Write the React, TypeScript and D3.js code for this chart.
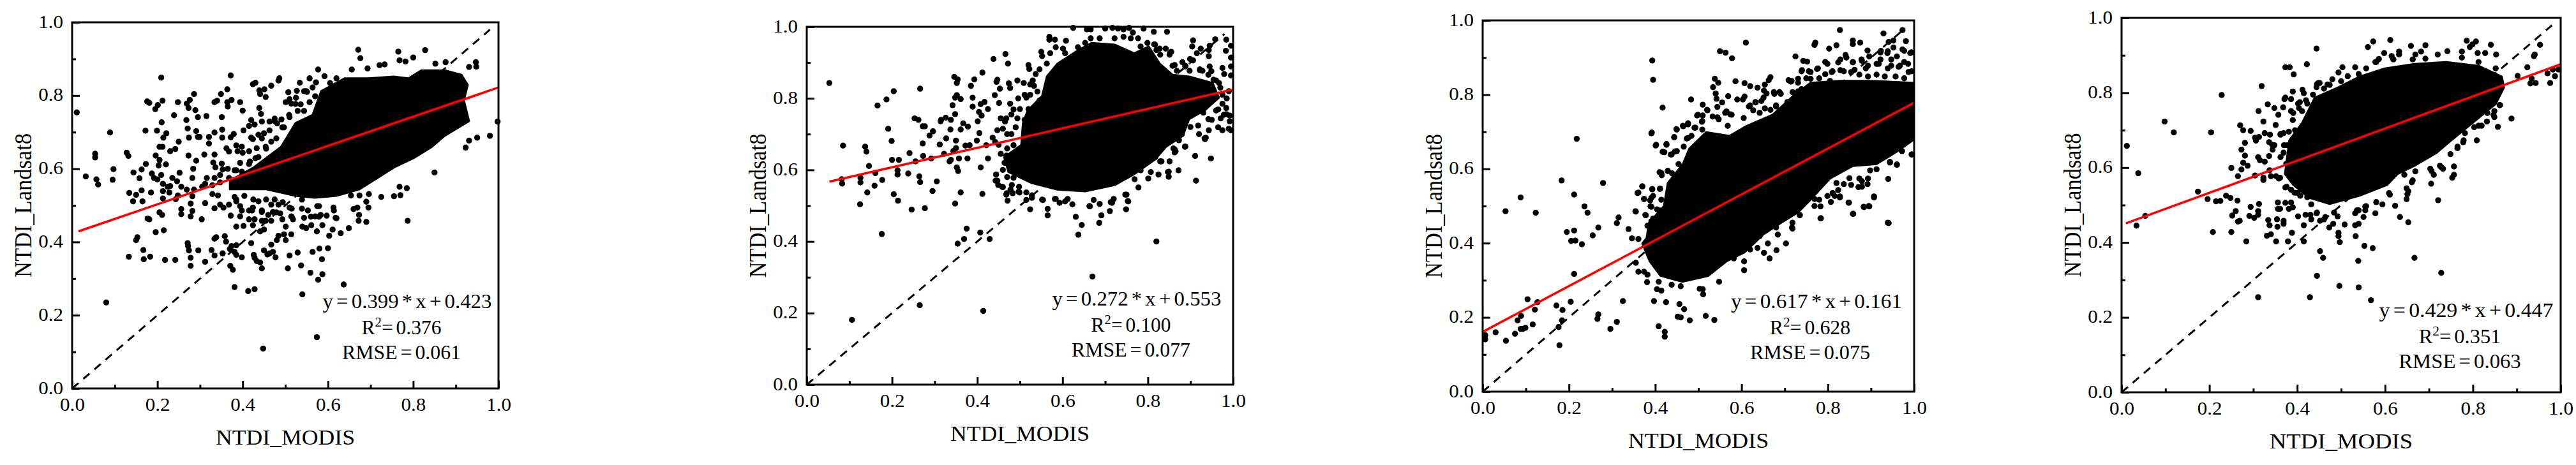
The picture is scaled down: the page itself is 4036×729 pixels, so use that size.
import React, { useEffect, useRef } from "react";
import * as d3 from "d3";

type Pt = [number, number];

const majorTicks = [0, 0.2, 0.4, 0.6, 0.8, 1.0];
const minorTicks = [0.1, 0.3, 0.5, 0.7, 0.9];
const xTitle = "NTDI_MODIS";
const yTitle = "NTDI_Landsat8";

// solid part of each cloud (overplotted so far that no single dot can be read)
const core1: Pt[] = [[.370,.568],[.425,.603],[.490,.660],[.524,.725],[.564,.747],[.584,.812],[.639,.847],[.695,.847],[.754,.852],[.789,.847],[.819,.869],[.874,.869],[.913,.857],[.928,.829],[.919,.787],[.931,.730],[.874,.690],[.844,.660],[.804,.631],[.754,.603],[.714,.573],[.674,.544],[.620,.526],[.569,.521],[.524,.526],[.455,.544],[.404,.544],[.370,.544]];
const core2: Pt[] = [[.518,.766],[.552,.807],[.563,.861],[.588,.897],[.633,.932],[.668,.955],[.723,.950],[.768,.926],[.802,.945],[.828,.897],[.858,.866],[.897,.861],[.952,.843],[.967,.802],[.933,.766],[.897,.742],[.882,.695],[.843,.665],[.817,.629],[.768,.588],[.723,.558],[.653,.540],[.588,.545],[.528,.563],[.473,.594],[.463,.635],[.503,.670],[.507,.731]];
const core3: Pt[] = [[.380,.414],[.385,.454],[.420,.500],[.429,.562],[.464,.613],[.479,.655],[.518,.699],[.572,.689],[.612,.716],[.672,.746],[.720,.797],[.760,.832],[.828,.837],[.902,.837],[.997,.832],[.997,.677],[.962,.648],[.913,.613],[.858,.608],[.805,.574],[.760,.517],[.731,.483],[.691,.454],[.650,.423],[.607,.375],[.565,.351],[.523,.312],[.463,.296],[.412,.312],[.387,.351],[.370,.399]];
const core4: Pt[] = [[.372,.583],[.382,.673],[.411,.719],[.440,.787],[.493,.814],[.542,.843],[.600,.865],[.667,.877],[.740,.882],[.813,.872],[.866,.843],[.871,.814],[.852,.770],[.804,.724],[.746,.668],[.717,.639],[.667,.605],[.629,.583],[.605,.554],[.542,.525],[.474,.503],[.426,.520],[.391,.554]];

// dots that can still be told apart, read one by one
const dots1: Pt[] = [[.011,.754],[.054,.641],[.054,.631],[.032,.579],[.057,.571],[.061,.557],[.089,.699],[.097,.599],[.095,.570],[.080,.235],[.128,.644],[.132,.635],[.144,.590],[.134,.534],[.150,.529],[.143,.511],[.163,.598],[.158,.574],[.163,.541],[.165,.511],[.185,.535],[.172,.704],[.176,.784],[.181,.780],[.195,.763],[.201,.774],[.212,.786],[.209,.849],[.210,.727],[.199,.704],[.173,.613],[.187,.587],[.196,.636],[.205,.660],[.212,.660],[.221,.697],[.214,.685],[.205,.624],[.203,.609],[.220,.612],[.200,.571],[.209,.583],[.192,.575],[.213,.559],[.224,.551],[.230,.553],[.213,.539],[.228,.535],[.213,.519],[.239,.746],[.248,.782],[.230,.648],[.242,.654],[.250,.674],[.235,.575],[.246,.566],[.252,.589],
[.153,.413],[.150,.405],[.167,.378],[.133,.360],[.168,.353],[.183,.360],[.177,.464],[.181,.462],[.196,.427],[.215,.432],[.205,.481],[.211,.474],[.218,.351],[.242,.351],[.271,.397],[.272,.389],[.274,.377],[.296,.377],[.278,.357],[.278,.335],[.312,.346],[.327,.378],[.334,.363],[.334,.409],[.338,.413],[.358,.416],[.361,.401],[.353,.369],[.370,.381],[.374,.389],[.385,.391],[.381,.373],[.385,.365],[.398,.358],[.371,.335],[.377,.324],[.381,.277],[.413,.266],[.428,.271],[.445,.328],[.420,.397],[.433,.348],[.441,.344],[.426,.365],[.428,.357],[.450,.377],[.458,.366],[.471,.373],[.477,.358],[.506,.328],[.510,.363],[.529,.371],[.537,.336],[.559,.316],[.577,.297],[.587,.312],[.586,.353],[.564,.373],[.580,.382],[.600,.383],[.637,.284],[.540,.257],[.574,.140],[.448,.109],
[.787,.458],[.785,.547],[.768,.551],[.770,.528],[.755,.525],[.725,.523],[.690,.510],[.695,.494],[.690,.455],[.673,.474],[.669,.494],[.660,.490],[.672,.458],[.649,.438],[.630,.424],[.611,.434],[.603,.417],[.618,.466],[.613,.494],[.850,.590],[.923,.658],[.931,.677],[.950,.685],[.980,.690],[.998,.729],[.948,.879],[.947,.891],[.931,.878],[.876,.891],[.852,.887],[.828,.924],[.800,.904],[.765,.920],[.768,.896],[.782,.893],[.671,.925],[.676,.902],[.721,.883],[.733,.885],[.693,.874],[.656,.871],[.592,.853],[.577,.871],
[.557,.847],[.572,.836],[.534,.835],[.564,.822],[.544,.812],[.527,.813],[.507,.809],[.551,.810],[.570,.798],[.525,.794],[.510,.790],[.501,.782],[.514,.778],[.557,.782],[.536,.776],[.529,.758],[.510,.741],[.544,.758],[.493,.713],[.486,.847],[.484,.841],[.467,.827],[.451,.817],[.424,.831],[.430,.835],[.439,.814],[.441,.804],[.454,.796],[.372,.855],[.364,.817],[.349,.804],[.374,.788],[.364,.782],[.365,.770],[.394,.782],[.400,.759],[.334,.782],[.340,.786],[.286,.804],[.276,.788],[.269,.778],[.273,.766],[.289,.760],[.295,.741],[.315,.744],[.268,.733],[.271,.710],[.291,.703],[.295,.687],[.274,.685],[.299,.687],[.321,.687],[.321,.669],[.334,.699],[.352,.707],[.351,.741],[.352,.685],[.372,.686],[.379,.695],[.273,.636],[.310,.639],[.334,.639],[.291,.622],[.284,.600],[.331,.617],[.336,.604],[.351,.614],[.353,.598],[.365,.600],[.362,.656],[.368,.647],
[.402,.705],[.420,.733],[.415,.717],[.428,.721],[.443,.750],[.439,.766],[.445,.729],[.463,.729],[.475,.737],[.491,.735],[.481,.724],[.463,.705],[.450,.697],[.437,.693],[.424,.681],[.420,.685],[.398,.660],[.385,.664],[.388,.648],[.400,.644],[.415,.648],[.433,.656],[.454,.660],[.467,.674],[.437,.632],[.417,.620],[.394,.616],[.381,.596],[.368,.575],[.398,.592],
[.316,.575],[.334,.575],[.347,.583],[.312,.559],[.329,.555],[.347,.563],[.282,.575],[.256,.551],[.269,.543],[.286,.543],[.305,.551],[.248,.527],[.243,.517],[.282,.525],[.329,.531],[.342,.527],[.312,.506],[.278,.505],[.256,.490],[.256,.476],[.282,.485],[.278,.470],[.304,.462],[.334,.492],[.347,.502],[.355,.494],[.368,.502],[.385,.511],[.394,.498],[.381,.523],[.372,.472],[.398,.486],[.394,.470],[.385,.442],[.402,.444],[.415,.486],[.424,.494],[.415,.462],[.428,.462],[.424,.446],[.437,.511],[.445,.482],[.454,.458],[.445,.458],[.441,.429],[.450,.434],[.467,.502],[.471,.482],[.467,.458],[.484,.502],[.488,.478],[.493,.462],[.510,.494],[.514,.470],[.484,.417],[.497,.421],[.480,.405],[.467,.393],[.463,.369],[.501,.405],[.514,.421],[.501,.442],[.518,.462],[.540,.442],[.549,.438],[.544,.466],[.570,.470],[.583,.474],[.561,.446],[.587,.446],[.574,.429],[.553,.486],[.579,.498],
[.385,.516],[.422,.486],[.445,.486],[.460,.474],[.479,.481],[.515,.491],[.515,.469],[.539,.491],[.575,.498],[.560,.469],[.579,.469],[.597,.472],[.614,.486],[.620,.465],[.475,.516],[.494,.509],[.539,.516],[.455,.516],[.425,.516],[.404,.526],[.654,.527],[.674,.527],[.696,.531],[.524,.777],[.509,.747],[.497,.713],[.475,.730],[.445,.683],[.455,.655],[.479,.683],[.430,.629],[.415,.613],[.385,.596],[.549,.812],[.620,.847],[.605,.834]];

const dots2: Pt[] = [[.053,.843],[.085,.668],[.082,.574],[.083,.562],[.106,.181],[.137,.665],[.140,.651],[.126,.578],[.126,.565],[.125,.504],[.142,.537],[.146,.611],[.159,.556],[.161,.591],[.166,.780],[.187,.797],[.176,.421],[.177,.572],[.191,.715],[.199,.681],[.200,.628],[.204,.820],[.204,.532],[.214,.514],[.213,.599],[.213,.587],[.216,.628],[.238,.590],[.241,.647],[.246,.489],[.255,.624],[.266,.827],[.264,.582],[.266,.566],[.265,.222],[.277,.493],[.272,.674],[.253,.744],[.262,.740],[.272,.722],[.277,.722],[.273,.639],[.288,.696],[.296,.708],[.292,.632],[.295,.541],[.305,.568],[.312,.671],[.315,.740],[.326,.746],[.338,.740],[.314,.736],[.327,.688],[.322,.645],[.338,.628],[.335,.624],[.337,.713],[.346,.860],[.354,.853],[.352,.843],[.342,.781],[.348,.802],[.352,.809],[.361,.798],[.348,.756],[.350,.682],[.344,.653],[.350,.661],[.352,.607],[.355,.597],[.357,.632],[.361,.537],[.348,.506],[.354,.394],[.369,.407],[.375,.436],[.361,.713],[.367,.730],[.378,.721],[.372,.668],[.382,.669],[.377,.632],[.385,.835],[.393,.853],[.389,.802],[.389,.777],[.404,.762],[.410,.752],[.417,.790],[.408,.784],[.412,.872],[.401,.736],[.399,.682],[.405,.703],[.408,.607],[.412,.533],[.407,.425],[.414,.206],[.429,.407],[.425,.770],[.438,.910],[.441,.809],[.421,.669],[.425,.632],[.436,.690],[.444,.587],[.447,.570],[.449,.558],[.460,.552],[.468,.531],[.471,.514],[.483,.535],[.497,.539],[.466,.924],[.472,.897],[.447,.852],[.445,.846],[.453,.827],[.474,.842],[.477,.829],[.494,.850],[.509,.843],[.520,.893],[.522,.882],[.451,.787],[.477,.785],[.485,.769],[.496,.800],[.511,.810],[.515,.802],[.494,.744],[.511,.740],[.455,.744],[.468,.744],[.460,.715],[.490,.719],[.447,.711],[.442,.678],[.455,.645],[.468,.640],[.464,.620],[.485,.669],[.490,.645],[.494,.628],[.485,.578],[.503,.587],[.481,.558],[.498,.553],[.515,.537],[.528,.529],[.524,.490],[.515,.516],[.554,.516],[.565,.491],[.565,.473],[.584,.519],[.593,.508],[.606,.512],[.623,.504],[.631,.469],[.645,.446],[.637,.419],[.664,.498],[.670,.302],[.673,.516],[.687,.505],[.686,.452],[.691,.473],[.711,.485],[.716,.508],[.720,.519],[.750,.531],[.749,.490],[.754,.512],[.778,.551],[.769,.574],[.820,.400],[.801,.576],[.825,.587],[.849,.595],[.849,.581],[.872,.599],[.851,.624],[.829,.624],[.863,.649],[.863,.657],[.887,.665],[.913,.570],[.911,.639],[.948,.632],[.934,.686],[.936,.690],[.943,.711],[.965,.719],[.975,.711],[.990,.715],[.995,.711],[.992,.736],[.971,.744],[.984,.756],[.992,.752],[.965,.769],[.975,.785],[.984,.773],
[.945,.889],[.949,.876],[.954,.852],[.943,.918],[.943,.935],[.945,.947],[.958,.965],[.984,.964],[.983,.933],[.995,.947],[.995,.914],[.995,.889],[.995,.864],[.975,.885],[.979,.868],[.906,.962],[.904,.945],[.924,.939],[.915,.926],[.881,.901],[.888,.889],[.899,.910],[.906,.906],[.922,.881],[.928,.877],[.898,.877],[.863,.893],[.868,.877],
[.625,.997],[.657,.993],[.666,.993],[.700,.995],[.717,.997],[.730,.995],[.743,.993],[.756,.997],[.790,.995],[.814,.986],[.845,.986],[.722,.968],[.743,.972],[.765,.984],[.777,.968],[.760,.968],[.799,.955],[.815,.951],[.828,.939],[.842,.939],[.855,.930],[.851,.922],[.820,.935],[.829,.922],[.687,.968],[.666,.968],[.636,.943],[.653,.955],[.569,.972],[.569,.964],[.582,.964],[.608,.961],[.601,.939],[.606,.926],[.550,.930],[.552,.918],[.571,.926],[.584,.943],[.537,.868],[.546,.881],[.563,.897],[.524,.839],[.533,.835],[.541,.819],[.546,.794],[.524,.810],
[.470,.700],[.470,.660],[.480,.620],[.490,.600],[.460,.600],[.470,.580],[.450,.670],[.480,.700],[.465,.735],[.480,.755],[.500,.770],[.530,.850],[.520,.770],[.535,.750],[.860,.660],[.880,.700],[.900,.720],[.920,.700],[.930,.760],[.950,.740],[.960,.850],[.970,.830],[.985,.800],[.990,.820],[.975,.810],
[.918,.724],[.933,.688],[.873,.683],[.888,.665],[.865,.652],[.960,.766],[.978,.754],[.942,.742],[.967,.843],[.942,.866],[.922,.879],[.888,.891],[.858,.891],[.852,.927],[.817,.950],[.783,.945],[.817,.635],[.832,.624],[.847,.594],[.807,.594],[.783,.599],[.478,.545],[.469,.535],[.443,.570],[.458,.553],[.499,.537],[.528,.522],[.552,.517],[.582,.519],[.612,.519],[.663,.499],[.713,.510],[.753,.513],[.747,.531]];

const dots3: Pt[] = [[.006,.152],[.006,.141],[.030,.160],[.054,.137],[.053,.486],[.075,.156],[.081,.192],[.088,.523],[.088,.169],[.093,.169],[.099,.172],[.089,.204],[.104,.249],[.123,.482],[.121,.221],[.116,.181],[.127,.241],[.171,.232],[.185,.220],[.184,.192],[.176,.174],[.178,.125],[.183,.569],[.195,.430],[.204,.242],[.205,.406],[.212,.531],[.212,.434],[.215,.407],[.212,.317],[.218,.681],[.230,.397],[.236,.499],[.243,.482],[.255,.421],[.268,.442],[.266,.196],[.268,.208],[.279,.562],[.296,.169],[.311,.454],[.315,.469],[.311,.188],[.325,.244],[.338,.438],[.346,.413],[.354,.486],[.355,.347],[.359,.535],[.370,.553],[.374,.519],[.378,.475],[.361,.411],[.361,.323],[.374,.323],[.382,.315],[.381,.295],[.393,.892],[.395,.840],[.391,.696],[.401,.663],[.393,.546],[.395,.527],[.388,.515],[.389,.499],[.404,.491],[.412,.483],[.382,.447],[.391,.459],[.410,.591],[.429,.595],[.415,.583],[.411,.547],[.417,.765],[.421,.645],[.426,.665],[.438,.639],[.446,.647],[.449,.707],[.444,.685],[.465,.715],[.476,.720],[.476,.683],[.483,.787],[.493,.711],[.497,.744],[.510,.744],[.510,.773],[.508,.727],[.520,.759],[.534,.820],[.538,.843],[.546,.832],[.540,.803],[.542,.789],[.544,.767],[.555,.779],[.550,.917],[.563,.913],[.578,.898],[.586,.836],[.569,.796],[.565,.755],[.574,.747],[.544,.739],[.590,.787],[.603,.787],[.610,.940],[.607,.831],[.620,.823],[.637,.819],[.654,.827],[.663,.839],[.667,.847],[.652,.811],[.658,.803],[.620,.771],[.646,.783],[.607,.795],[.633,.779],[.675,.807],[.688,.807],[.680,.771],[.667,.759],[.709,.839],[.714,.835],[.725,.903],[.743,.891],[.752,.889],[.731,.843],[.769,.934],[.771,.940],[.803,.924],[.820,.933],[.828,.974],[.799,.883],[.777,.871],[.756,.863],[.739,.863],[.760,.843],[.739,.815],[.718,.807],[.858,.946],[.858,.936],[.875,.940],[.929,.965],[.973,.974],[.981,.944],[.941,.942],[.952,.946],[.892,.919],[.922,.914],[.939,.917],[.952,.927],[.973,.922],[.994,.914],[.824,.887],[.841,.907],[.858,.887],[.879,.891],[.896,.903],[.922,.895],[.960,.903],[.986,.883],[.794,.855],[.811,.863],[.837,.863],[.862,.867],[.888,.871],[.913,.883],[.939,.871],[.964,.875],[.994,.863],
[.995,.639],[.971,.649],[.960,.611],[.944,.617],[.941,.454],[.940,.573],[.907,.523],[.896,.499],[.884,.497],[.859,.479],[.848,.509],[.828,.523],[.807,.511],[.811,.535],[.816,.527],[.783,.467],[.783,.499],[.769,.519],[.735,.475],[.718,.439],[.718,.455],[.703,.399],[.684,.423],[.681,.381],[.665,.359],[.652,.374],[.661,.399],[.637,.387],[.620,.383],[.606,.351],[.606,.327],[.582,.359],[.548,.296],[.510,.276],[.503,.277],[.511,.262],[.517,.204],[.537,.193],[.480,.192],[.456,.236],[.467,.222],[.452,.202],[.459,.200],[.425,.241],[.397,.244],[.408,.176],[.422,.161],[.422,.148],[.404,.276],[.414,.272],[.408,.296],[.438,.288],[.459,.284],[.871,.551],[.879,.567],[.892,.559],[.837,.559],[.824,.543],[.850,.575],[.913,.599],
[.820,.562],[.854,.557],[.873,.574],[.893,.574],[.879,.552],[.898,.596],[.799,.527],[.812,.534],[.780,.517],[.769,.500],[.735,.476],[.717,.442],[.680,.442],[.642,.419],[.828,.526],[.849,.509],[.883,.498],[.895,.500],[.907,.526],[.858,.479],[.784,.467],[.939,.455],[.944,.619],[.960,.612],[.972,.648],[.994,.639],
[.829,.895],[.843,.900],[.858,.888],[.878,.895],[.893,.878],[.923,.918],[.938,.912],[.947,.895],[.918,.883],[.977,.918],[.991,.912],[.977,.888],[.967,.878],[.987,.861],[.947,.878],[.829,.866],[.809,.861],[.854,.861],[.873,.854],[.893,.849],[.913,.854],[.932,.849],[.957,.849],[.977,.844],[.794,.888],[.775,.869],[.760,.861],[.740,.866],[.731,.832],[.750,.844],[.716,.837],[.780,.844],[.805,.837],[.691,.802],[.676,.802],[.651,.792],[.632,.780],[.617,.768],[.654,.763],[.680,.768],[.706,.780],[.731,.809],[.562,.751],[.577,.746],[.605,.737],[.627,.758],[.642,.751],[.521,.758],[.499,.746],[.509,.729],[.533,.741],[.547,.734],[.568,.716],[.476,.723],[.464,.716],[.450,.706],[.491,.711],[.509,.706],[.484,.689],[.473,.682],[.466,.660],[.444,.686],[.450,.648],[.436,.639],[.417,.646],[.426,.667],[.402,.665],[.392,.698],[.454,.613],[.439,.588],[.429,.594],[.414,.589],[.436,.562],[.411,.546],[.393,.545],[.370,.553],[.361,.536],[.374,.519],[.391,.522],[.414,.517],[.391,.498],[.355,.485],[.377,.476],[.410,.488],[.395,.466]];

const dots4: Pt[] = [[.012,.658],[.038,.585],[.034,.445],[.054,.471],[.098,.723],[.119,.694],[.174,.536],[.196,.516],[.204,.694],[.215,.510],[.225,.511],[.228,.794],[.208,.428],[.238,.525],[.248,.519],[.250,.599],[.250,.428],[.252,.472],[.260,.484],[.264,.512],[.265,.577],[.265,.456],[.269,.458],[.270,.713],[.273,.648],[.277,.700],[.281,.666],[.281,.632],[.284,.403],[.273,.595],[.277,.613],[.287,.605],[.294,.698],[.294,.495],[.291,.471],[.302,.466],[.311,.254],[.311,.484],[.311,.474],[.313,.503],[.319,.818],[.304,.579],[.311,.628],[.315,.620],[.326,.616],[.306,.672],[.304,.680],[.312,.751],[.313,.682],[.323,.723],[.326,.692],[.338,.688],[.323,.573],[.323,.567],[.333,.769],[.334,.460],[.337,.446],[.331,.418],[.340,.422],[.337,.593],[.340,.577],[.336,.631],[.336,.668],[.348,.660],[.344,.648],[.348,.759],[.351,.714],[.357,.741],[.352,.403],[.354,.462],[.355,.442],[.356,.507],[.356,.490],[.361,.490],[.369,.450],[.369,.458],[.373,.506],[.379,.403],[.373,.547],[.388,.426],[.386,.507],[.381,.490],[.390,.494],[.362,.688],[.369,.692],[.368,.761],[.373,.787],[.371,.783],[.373,.868],[.383,.868],[.392,.849],[.390,.803],[.386,.783],[.362,.628],[.369,.640],[.377,.660],[.352,.577],[.361,.573],[.386,.751],[.390,.727],[.381,.696],[.412,.808],[.415,.799],[.422,.876],[.404,.759],[.394,.660],[.415,.403],[.415,.446],[.402,.470],[.419,.474],[.394,.533],[.386,.541],[.407,.525],[.423,.521],[.432,.502],[.432,.462],[.444,.918],[.448,.826],[.444,.815],[.429,.254],[.445,.311],[.452,.377],[.459,.359],[.461,.462],[.473,.440],[.444,.478],[.452,.458],[.482,.450],[.494,.426],[.494,.417],[.497,.401],[.496,.284],[.492,.470],[.508,.448],[.532,.446],[.540,.450],[.533,.417],[.532,.478],[.540,.486],[.555,.496],[.555,.486],[.551,.468],[.553,.391],[.539,.351],[.540,.280],[.568,.246],[.572,.385],[.578,.478],[.594,.502],[.611,.528],[.623,.498],[.634,.468],[.653,.454],[.649,.545],[.651,.529],[.649,.516],[.661,.561],[.667,.359],[.644,.581],[.669,.590],[.705,.557],[.721,.513],[.728,.319],[.703,.597],[.711,.581],[.728,.601],[.732,.597],[.753,.573],[.757,.581],[.757,.603],[.749,.636],[.765,.652],[.778,.668],[.782,.692],[.803,.708],[.809,.673],[.820,.712],[.832,.723],[.849,.735],[.849,.751],[.857,.709],[.861,.767],[.888,.731],[.902,.845],[.924,.868],[.934,.838],[.931,.825],[.943,.826],[.939,.898],[.941,.902],[.953,.928],[.976,.826],[.970,.852],[.987,.844],[.982,.862],[.995,.862],
[.561,.922],[.573,.937],[.612,.941],[.598,.906],[.578,.882],[.615,.898],[.632,.910],[.632,.902],[.659,.925],[.692,.927],[.669,.902],[.682,.910],[.742,.911],[.775,.910],[.786,.939],[.807,.937],[.799,.929],[.793,.922],[.841,.928],[.853,.902],[.811,.906],[.828,.906],[.720,.902],[.586,.890],[.532,.868],[.503,.868],[.494,.854],[.515,.844],[.540,.850],[.480,.836],[.469,.822],[.461,.811],[.451,.826],[.436,.795],[.423,.771],[.402,.771],[.411,.751],
[.375,.610],[.370,.660],[.395,.700],[.400,.620],[.405,.690],[.420,.780],[.430,.745],[.440,.775],
[.445,.480],[.430,.474],[.464,.468],[.484,.480],[.536,.486],[.557,.497],[.580,.508],[.609,.532],[.653,.537],[.663,.566],[.706,.591],[.725,.605],[.765,.656],[.779,.673],[.813,.712],[.847,.741],[.862,.767],[.833,.746],[.376,.549],[.401,.532],[.358,.571],[.343,.661],[.362,.690],[.391,.746],[.406,.775],[.445,.823],[.474,.821],[.500,.831],[.557,.865],[.580,.882],[.619,.889],[.663,.889],[.692,.891],[.775,.894],[.813,.882],[.852,.865]];

// printed fits: [slope, intercept], and where the red line starts on x
const slopes = [0.399, 0.272, 0.617, 0.429];
const intercepts = [0.423, 0.553, 0.161, 0.447];
const fitStarts = [0.015, 0.053, 0, 0.01];
const rSquared = ["0.376", "0.100", "0.628", "0.351"];
const rmse = ["0.061", "0.077", "0.075", "0.063"];
const equations = ["y = 0.399 * x + 0.423", "y = 0.272 * x + 0.553", "y = 0.617 * x + 0.161", "y = 0.429 * x + 0.447"];

const allDots = [dots1, dots2, dots3, dots4];
const allCores = [core1, core2, core3, core4];

// frame of each panel in page pixels, and the anchor of its text block
const frames = [
  { left: 113, right: 781, top: 35, bottom: 609, noteX: 638, noteX2: 629, noteY: 483 },
  { left: 1264, right: 1932, top: 42, bottom: 603, noteX: 1781, noteX2: 1772, noteY: 479 },
  { left: 2323, right: 2999, top: 32, bottom: 614, noteX: 2846, noteX2: 2836, noteY: 483 },
  { left: 3324, right: 4012, top: 28, bottom: 615, noteX: 3864, noteX2: 3854, noteY: 497 },
];

const serif = "'Liberation Serif', 'Times New Roman', serif";

// squeeze or stretch a text sideways until it is as wide as in the reference
const fitWidth = (sel: any, px: number, py: number, target: number) => {
  const w = sel.node().getComputedTextLength();
  sel.attr("transform", `translate(${px},${py}) scale(${target / w},1)`);
};

export default function App() {
  const ref = useRef<SVGSVGElement>(null);

  useEffect(() => {
    const svg = d3.select(ref.current);
    svg.selectAll("*").remove();

    frames.forEach((f, i) => {
      const x = d3.scaleLinear().domain([0, 1]).range([f.left, f.right]);
      const y = d3.scaleLinear().domain([0, 1]).range([f.bottom, f.top]);
      const g = svg.append("g");
      const widen = (f.right - f.left) / 668;

      // 1:1 line, under the dots
      g.append("line")
        .attr("x1", x(0)).attr("y1", y(0))
        .attr("x2", x(0.98)).attr("y2", y(0.98))
        .attr("stroke", "#000").attr("stroke-width", 3)
        .attr("stroke-dasharray", "13 10");

      const cloud = d3.line<Pt>().x((d) => x(d[0])).y((d) => y(d[1])).curve(d3.curveLinearClosed);
      g.append("path")
        .attr("d", cloud(allCores[i]))
        .attr("fill", "#000").attr("stroke", "#000").attr("stroke-width", 3)
        .attr("stroke-linejoin", "round");

      g.selectAll("circle.dot").data(allDots[i]).enter().append("circle")
        .attr("class", "dot")
        .attr("cx", (d) => x(d[0])).attr("cy", (d) => y(d[1]))
        .attr("r", 4.7).attr("fill", "#000");

      const start = fitStarts[i];
      g.append("line")
        .attr("x1", x(start)).attr("y1", y(slopes[i] * start + intercepts[i]))
        .attr("x2", x(1)).attr("y2", y(slopes[i] + intercepts[i]))
        .attr("stroke", "#f00").attr("stroke-width", 3.6);

      // frame
      g.append("rect")
        .attr("x", f.left).attr("y", f.top)
        .attr("width", f.right - f.left).attr("height", f.bottom - f.top)
        .attr("fill", "none").attr("stroke", "#000").attr("stroke-width", 3);

      const bottomMajor = d3.axisBottom(x).tickValues(majorTicks).tickSize(-12).tickFormat(d3.format(".1f") as any);
      const bottomMinor = d3.axisBottom(x).tickValues(minorTicks).tickSize(-6).tickFormat(() => "");
      const leftMajor = d3.axisLeft(y).tickValues(majorTicks).tickSize(-12).tickFormat(d3.format(".1f") as any);
      const leftMinor = d3.axisLeft(y).tickValues(minorTicks).tickSize(-6).tickFormat(() => "");

      const xAxis = g.append("g").attr("transform", `translate(0,${f.bottom})`);
      xAxis.append("g").call(bottomMinor as any);
      xAxis.append("g").call(bottomMajor as any);
      const yAxis = g.append("g").attr("transform", `translate(${f.left},0)`);
      yAxis.append("g").call(leftMinor as any);
      yAxis.append("g").call(leftMajor as any);
      g.selectAll(".domain").remove();
      g.selectAll(".tick line").attr("stroke", "#000").attr("stroke-width", 3);

      xAxis.selectAll("text")
        .attr("y", 0).attr("dy", 0)
        .attr("transform", "translate(0,35) scale(1.09,1)")
        .attr("text-anchor", "middle");
      yAxis.selectAll("text")
        .attr("x", 0).attr("dy", "0.32em")
        .attr("transform", "translate(-14,-1) scale(1.09,1)")
        .attr("text-anchor", "end");
      g.selectAll(".tick text")
        .attr("font-family", serif).attr("font-size", 28.5).attr("fill", "#000");

      const xt = g.append("text")
        .attr("text-anchor", "middle")
        .attr("font-family", serif).attr("font-size", 33.5)
        .text(xTitle);
      fitWidth(xt, (f.left + f.right) / 2, f.bottom + 88, 218 * widen);
      g.append("text")
        .attr("transform", `translate(${f.left - 64},${(f.top + f.bottom) / 2}) scale(1.12,1) rotate(-90)`)
        .attr("text-anchor", "middle")
        .attr("font-family", serif).attr("font-size", 34.5)
        .text(yTitle);

      // fit notes
      const note = () =>
        g.append("text")
          .attr("text-anchor", "middle")
          .attr("font-family", serif).attr("font-size", 32)
          .attr("word-spacing", -3);
      const eq = note().text(equations[i]);
      fitWidth(eq, f.noteX, f.noteY, 265 * widen);
      const r2 = note();
      r2.append("tspan").text("R");
      r2.append("tspan").attr("font-size", 21).attr("dy", -12).text("2");
      r2.append("tspan").attr("dy", 12).text(`= ${rSquared[i]}`);
      fitWidth(r2, f.noteX2, f.noteY + 41, 125 * widen);
      const rm = note().text(`RMSE = ${rmse[i]}`);
      fitWidth(rm, f.noteX2, f.noteY + 80, 186 * widen);
    });
  }, []);

  return (
    <svg
      ref={ref}
      width={4036}
      height={729}
      style={{ position: "absolute", left: 0, top: 0, display: "block", background: "#fff" }}
    />
  );
}
